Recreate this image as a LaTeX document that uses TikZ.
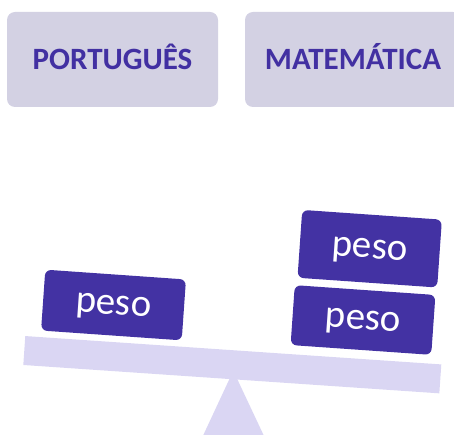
\documentclass[tikz,border=0pt]{standalone}
\usepackage{fontspec}
\setmainfont{Carlito}
\definecolor{subjfill}{HTML}{D3D1E3}
\definecolor{subjtext}{HTML}{4230A2}
\definecolor{weightfill}{HTML}{4332A3}
\definecolor{beamfill}{HTML}{DAD6F3}
\tikzset{
  subject/.style={fill=subjfill, rounded corners=8pt,
    minimum height=95pt, inner sep=0pt, text height=20pt, text depth=0pt,
    text=subjtext, font=\fontsize{31}{31}\selectfont\bfseries},
  weight/.style={fill=weightfill, rounded corners=6pt, inner sep=0pt, rotate=-4,
    minimum width=141pt, text height=19pt, text depth=0pt,
    text=white, font=\fontsize{39}{39}\selectfont},
  beamstyle/.style={fill=beamfill, inner sep=0pt, rotate=-3.9, minimum width=417pt, minimum height=29pt},
}
\begin{document}
\begin{tikzpicture}[x=1pt,y=-1pt]
\useasboundingbox (0,0) rectangle (454,435);
\clip (0,0) rectangle (454,435);
\node[subject, minimum width=211pt] (port) at (112.5,59.5) {PORTUGUÊS};
\node[subject, minimum width=216pt] (mat) at (353,59.5) {MATEMÁTICA};
\fill[beamfill] (233.3,370.7) -- (187,470) -- (280,470) -- cycle;
\node[beamstyle] (beam) at (232.3,364.7) {};
\node[weight, minimum height=61pt] (w1) at (113.5,305) {peso};
\node[weight, minimum height=60pt] (w2) at (363,320) {peso};
\node[weight, minimum height=68pt, minimum width=140pt] (w3) at (369.7,248.7) {peso};
\end{tikzpicture}
\end{document}
